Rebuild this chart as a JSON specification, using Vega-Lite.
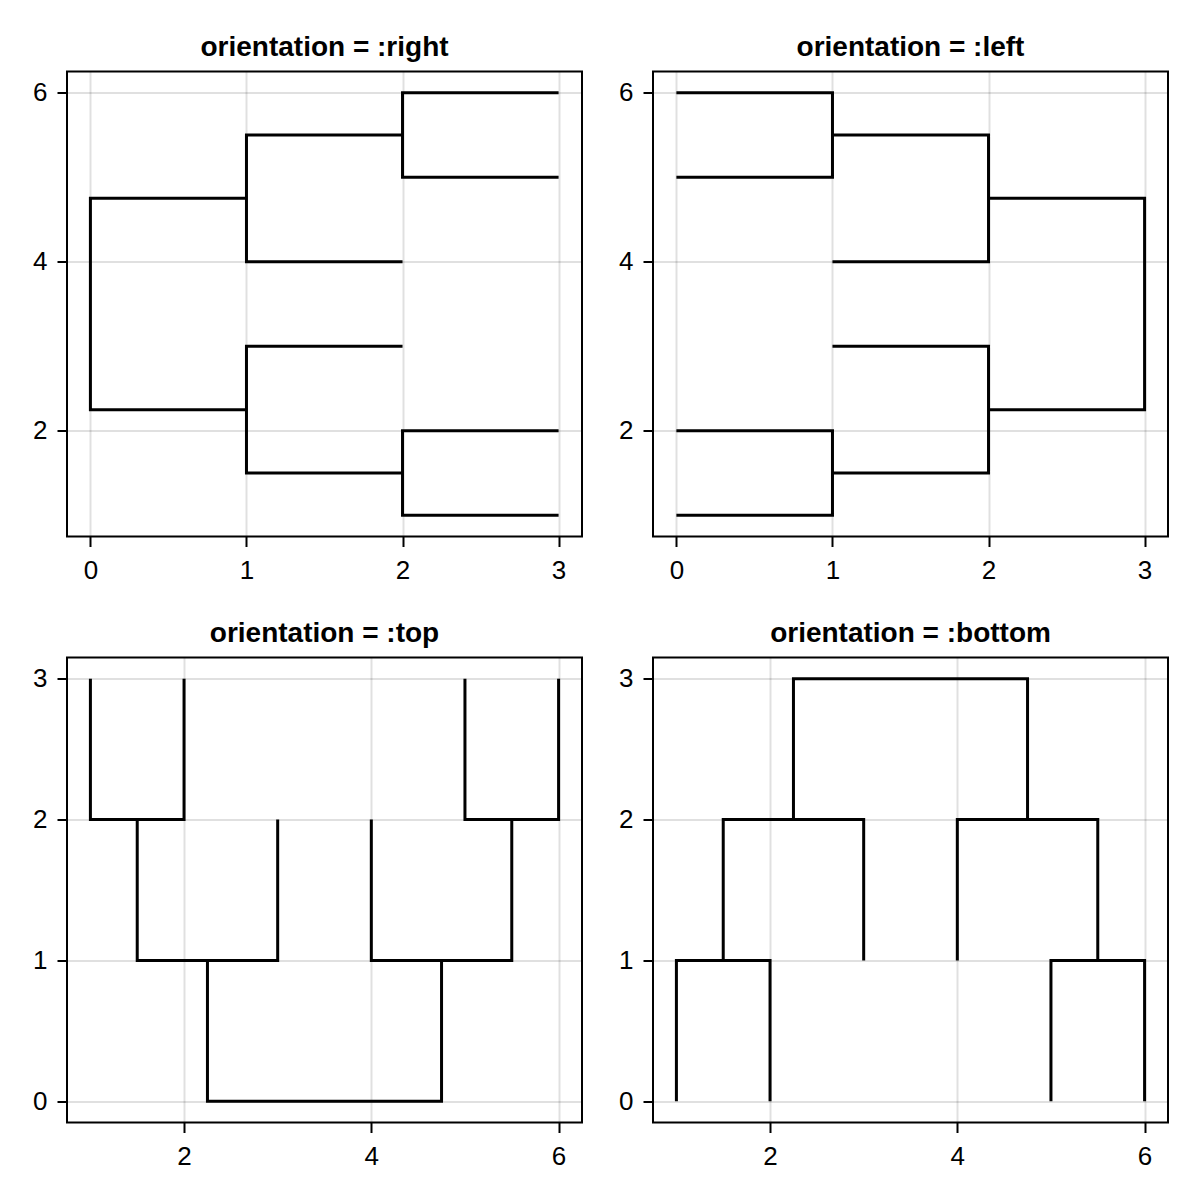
{
  "$schema": "https://vega.github.io/schema/vega-lite/v6.json",
  "background": "white",
  "padding": {"left": 31, "top": 32.5, "right": 0, "bottom": 0},
  "autosize": {"type": "pad"},
  "datasets": {
    "d": [
      {"p": "right", "link": 1, "o": 1, "x": 3, "y": 5},
      {"p": "right", "link": 1, "o": 2, "x": 2, "y": 5},
      {"p": "right", "link": 1, "o": 3, "x": 2, "y": 6},
      {"p": "right", "link": 1, "o": 4, "x": 3, "y": 6},
      {"p": "right", "link": 2, "o": 1, "x": 3, "y": 1},
      {"p": "right", "link": 2, "o": 2, "x": 2, "y": 1},
      {"p": "right", "link": 2, "o": 3, "x": 2, "y": 2},
      {"p": "right", "link": 2, "o": 4, "x": 3, "y": 2},
      {"p": "right", "link": 3, "o": 1, "x": 2, "y": 5.5},
      {"p": "right", "link": 3, "o": 2, "x": 1, "y": 5.5},
      {"p": "right", "link": 3, "o": 3, "x": 1, "y": 4},
      {"p": "right", "link": 3, "o": 4, "x": 2, "y": 4},
      {"p": "right", "link": 4, "o": 1, "x": 2, "y": 3},
      {"p": "right", "link": 4, "o": 2, "x": 1, "y": 3},
      {"p": "right", "link": 4, "o": 3, "x": 1, "y": 1.5},
      {"p": "right", "link": 4, "o": 4, "x": 2, "y": 1.5},
      {"p": "right", "link": 5, "o": 1, "x": 1, "y": 4.75},
      {"p": "right", "link": 5, "o": 2, "x": 0, "y": 4.75},
      {"p": "right", "link": 5, "o": 3, "x": 0, "y": 2.25},
      {"p": "right", "link": 5, "o": 4, "x": 1, "y": 2.25},

      {"p": "left", "link": 1, "o": 1, "x": 0, "y": 5},
      {"p": "left", "link": 1, "o": 2, "x": 1, "y": 5},
      {"p": "left", "link": 1, "o": 3, "x": 1, "y": 6},
      {"p": "left", "link": 1, "o": 4, "x": 0, "y": 6},
      {"p": "left", "link": 2, "o": 1, "x": 0, "y": 1},
      {"p": "left", "link": 2, "o": 2, "x": 1, "y": 1},
      {"p": "left", "link": 2, "o": 3, "x": 1, "y": 2},
      {"p": "left", "link": 2, "o": 4, "x": 0, "y": 2},
      {"p": "left", "link": 3, "o": 1, "x": 1, "y": 5.5},
      {"p": "left", "link": 3, "o": 2, "x": 2, "y": 5.5},
      {"p": "left", "link": 3, "o": 3, "x": 2, "y": 4},
      {"p": "left", "link": 3, "o": 4, "x": 1, "y": 4},
      {"p": "left", "link": 4, "o": 1, "x": 1, "y": 3},
      {"p": "left", "link": 4, "o": 2, "x": 2, "y": 3},
      {"p": "left", "link": 4, "o": 3, "x": 2, "y": 1.5},
      {"p": "left", "link": 4, "o": 4, "x": 1, "y": 1.5},
      {"p": "left", "link": 5, "o": 1, "x": 2, "y": 4.75},
      {"p": "left", "link": 5, "o": 2, "x": 3, "y": 4.75},
      {"p": "left", "link": 5, "o": 3, "x": 3, "y": 2.25},
      {"p": "left", "link": 5, "o": 4, "x": 2, "y": 2.25},

      {"p": "top", "link": 1, "o": 1, "x": 5, "y": 3},
      {"p": "top", "link": 1, "o": 2, "x": 5, "y": 2},
      {"p": "top", "link": 1, "o": 3, "x": 6, "y": 2},
      {"p": "top", "link": 1, "o": 4, "x": 6, "y": 3},
      {"p": "top", "link": 2, "o": 1, "x": 1, "y": 3},
      {"p": "top", "link": 2, "o": 2, "x": 1, "y": 2},
      {"p": "top", "link": 2, "o": 3, "x": 2, "y": 2},
      {"p": "top", "link": 2, "o": 4, "x": 2, "y": 3},
      {"p": "top", "link": 3, "o": 1, "x": 5.5, "y": 2},
      {"p": "top", "link": 3, "o": 2, "x": 5.5, "y": 1},
      {"p": "top", "link": 3, "o": 3, "x": 4, "y": 1},
      {"p": "top", "link": 3, "o": 4, "x": 4, "y": 2},
      {"p": "top", "link": 4, "o": 1, "x": 3, "y": 2},
      {"p": "top", "link": 4, "o": 2, "x": 3, "y": 1},
      {"p": "top", "link": 4, "o": 3, "x": 1.5, "y": 1},
      {"p": "top", "link": 4, "o": 4, "x": 1.5, "y": 2},
      {"p": "top", "link": 5, "o": 1, "x": 4.75, "y": 1},
      {"p": "top", "link": 5, "o": 2, "x": 4.75, "y": 0},
      {"p": "top", "link": 5, "o": 3, "x": 2.25, "y": 0},
      {"p": "top", "link": 5, "o": 4, "x": 2.25, "y": 1},

      {"p": "bottom", "link": 1, "o": 1, "x": 5, "y": 0},
      {"p": "bottom", "link": 1, "o": 2, "x": 5, "y": 1},
      {"p": "bottom", "link": 1, "o": 3, "x": 6, "y": 1},
      {"p": "bottom", "link": 1, "o": 4, "x": 6, "y": 0},
      {"p": "bottom", "link": 2, "o": 1, "x": 1, "y": 0},
      {"p": "bottom", "link": 2, "o": 2, "x": 1, "y": 1},
      {"p": "bottom", "link": 2, "o": 3, "x": 2, "y": 1},
      {"p": "bottom", "link": 2, "o": 4, "x": 2, "y": 0},
      {"p": "bottom", "link": 3, "o": 1, "x": 5.5, "y": 1},
      {"p": "bottom", "link": 3, "o": 2, "x": 5.5, "y": 2},
      {"p": "bottom", "link": 3, "o": 3, "x": 4, "y": 2},
      {"p": "bottom", "link": 3, "o": 4, "x": 4, "y": 1},
      {"p": "bottom", "link": 4, "o": 1, "x": 3, "y": 1},
      {"p": "bottom", "link": 4, "o": 2, "x": 3, "y": 2},
      {"p": "bottom", "link": 4, "o": 3, "x": 1.5, "y": 2},
      {"p": "bottom", "link": 4, "o": 4, "x": 1.5, "y": 1},
      {"p": "bottom", "link": 5, "o": 1, "x": 4.75, "y": 2},
      {"p": "bottom", "link": 5, "o": 2, "x": 4.75, "y": 3},
      {"p": "bottom", "link": 5, "o": 3, "x": 2.25, "y": 3},
      {"p": "bottom", "link": 5, "o": 4, "x": 2.25, "y": 2}
    ]
  },
  "columns": 2,
  "spacing": {"row": 34, "column": 34},
  "concat": [
    {
      "width": 515, "height": 465,
      "title": "orientation = :right",
      "data": {"name": "d"},
      "transform": [{"filter": "datum.p === 'right'"}],
      "mark": {"type": "line", "color": "black", "strokeWidth": 3, "strokeJoin": "miter", "strokeCap": "butt"},
      "encoding": {
        "x": {"field": "x", "type": "quantitative", "title": null, "scale": {"domain": [-0.15, 3.15], "nice": false, "zero": false}, "axis": {"values": [0, 1, 2, 3]}},
        "y": {"field": "y", "type": "quantitative", "title": null, "scale": {"domain": [0.75, 6.25], "nice": false, "zero": false}, "axis": {"values": [2, 4, 6]}},
        "detail": {"field": "link", "type": "nominal"},
        "order": {"field": "o", "type": "quantitative"}
      }
    },
    {
      "width": 515, "height": 465,
      "title": "orientation = :left",
      "data": {"name": "d"},
      "transform": [{"filter": "datum.p === 'left'"}],
      "mark": {"type": "line", "color": "black", "strokeWidth": 3, "strokeJoin": "miter", "strokeCap": "butt"},
      "encoding": {
        "x": {"field": "x", "type": "quantitative", "title": null, "scale": {"domain": [-0.15, 3.15], "nice": false, "zero": false}, "axis": {"values": [0, 1, 2, 3]}},
        "y": {"field": "y", "type": "quantitative", "title": null, "scale": {"domain": [0.75, 6.25], "nice": false, "zero": false}, "axis": {"values": [2, 4, 6]}},
        "detail": {"field": "link", "type": "nominal"},
        "order": {"field": "o", "type": "quantitative"}
      }
    },
    {
      "width": 515, "height": 465,
      "title": "orientation = :top",
      "data": {"name": "d"},
      "transform": [{"filter": "datum.p === 'top'"}],
      "mark": {"type": "line", "color": "black", "strokeWidth": 3, "strokeJoin": "miter", "strokeCap": "butt"},
      "encoding": {
        "x": {"field": "x", "type": "quantitative", "title": null, "scale": {"domain": [0.75, 6.25], "nice": false, "zero": false}, "axis": {"values": [2, 4, 6]}},
        "y": {"field": "y", "type": "quantitative", "title": null, "scale": {"domain": [-0.15, 3.15], "nice": false, "zero": false}, "axis": {"values": [0, 1, 2, 3]}},
        "detail": {"field": "link", "type": "nominal"},
        "order": {"field": "o", "type": "quantitative"}
      }
    },
    {
      "width": 515, "height": 465,
      "title": "orientation = :bottom",
      "data": {"name": "d"},
      "transform": [{"filter": "datum.p === 'bottom'"}],
      "mark": {"type": "line", "color": "black", "strokeWidth": 3, "strokeJoin": "miter", "strokeCap": "butt"},
      "encoding": {
        "x": {"field": "x", "type": "quantitative", "title": null, "scale": {"domain": [0.75, 6.25], "nice": false, "zero": false}, "axis": {"values": [2, 4, 6]}},
        "y": {"field": "y", "type": "quantitative", "title": null, "scale": {"domain": [-0.15, 3.15], "nice": false, "zero": false}, "axis": {"values": [0, 1, 2, 3]}},
        "detail": {"field": "link", "type": "nominal"},
        "order": {"field": "o", "type": "quantitative"}
      }
    }
  ],
  "config": {
    "font": "Liberation Sans",
    "view": {"stroke": "black", "strokeWidth": 2},
    "axis": {
      "domain": false,
      "labelFont": "Liberation Sans",
      "labelFontSize": 26,
      "labelColor": "black",
      "labelPadding": 10,
      "tickColor": "black",
      "tickSize": 10,
      "tickWidth": 2,
      "grid": true,
      "gridColor": "black",
      "gridOpacity": 0.12,
      "gridWidth": 2
    },
    "axisX": {"labelPadding": 11},
    "title": {
      "font": "Liberation Sans",
      "fontSize": 28,
      "fontWeight": "bold",
      "color": "black",
      "offset": 9.5
    }
  }
}
